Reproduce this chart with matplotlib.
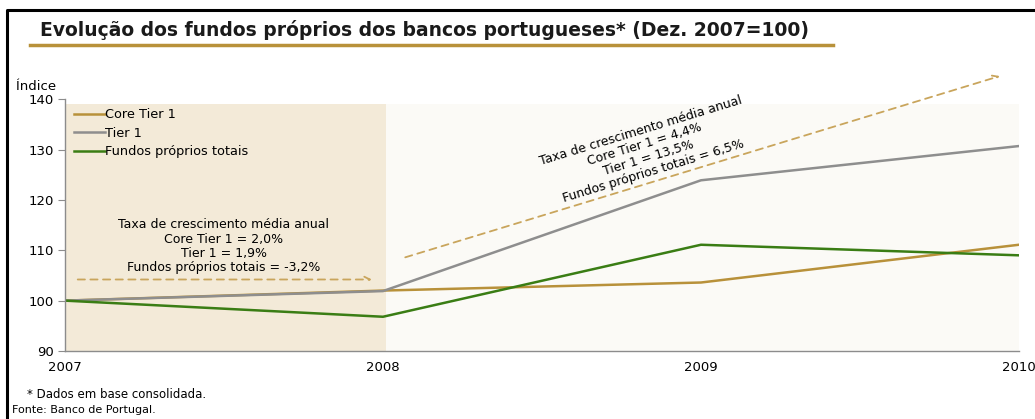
import numpy as np
import matplotlib.pyplot as plt
from matplotlib.lines import Line2D

plt.rcParams['font.family'] = ['DejaVu Sans']

# indices, Dez. 2007 = 100
anos = [2007, 2008, 2009, 2010]
core_tier1 = [100, 102.0, 103.6, 111.1]
tier1 = [100, 101.9, 123.9, 130.7]
fundos_totais = [100, 96.8, 111.1, 109.0]

ouro = '#b8913a'
cinza = '#8e8e8e'
verde = '#3a7d14'

fig = plt.figure(figsize=(10.35, 4.19), dpi=100)
ax = fig.add_axes([0.0628, 0.1623, 0.9217, 0.6009])

# fundo das duas fases
ax.fill_between([2007, 2008.01], 90, 139, color='#f3ead8', lw=0, zorder=0)
ax.fill_between([2008.01, 2010], 90, 139, color='#fbfaf6', lw=0, zorder=0)

ax.plot(anos, core_tier1, color=ouro, lw=1.8, label='Core Tier 1')
ax.plot(anos, tier1, color=cinza, lw=1.8, label='Tier 1')
ax.plot(anos, fundos_totais, color=verde, lw=1.8, label='Fundos próprios totais')

ax.set_xlim(2007, 2010)
ax.set_ylim(90, 140)
ax.set_yticks([90, 100, 110, 120, 130, 140])
ax.set_xticks(anos)
ax.set_xticklabels([str(a) for a in anos])
for s in ['top', 'right']:
    ax.spines[s].set_visible(False)
for s in ['left', 'bottom']:
    ax.spines[s].set_color('#8c8c8c')
    ax.spines[s].set_linewidth(1.0)
ax.tick_params(axis='y', length=5, color='#8c8c8c', labelsize=9.5, pad=3)
ax.tick_params(axis='x', length=0, labelsize=9.5, pad=7)
ax.set_facecolor('white')

ax.legend(loc='upper left', frameon=False, fontsize=9.3, handlelength=2.4,
          handletextpad=0.0, labelspacing=0.42, borderaxespad=0.3,
          bbox_to_anchor=(0.0, 1.0))

# setas de tendencia
seta = dict(arrowstyle='->', color='#c9a55c', lw=1.3, linestyle=(0, (4, 3)),
            shrinkA=0, shrinkB=0)
ax.annotate('', xy=(2007.965, 104.2), xytext=(2007.04, 104.2), arrowprops=seta)
ax.annotate('', xy=(2009.94, 144.6), xytext=(2008.07, 108.6),
            arrowprops=seta, annotation_clip=False)

ax.text(2007.50, 110.8,
        'Taxa de crescimento média anual\nCore Tier 1 = 2,0%\nTier 1 = 1,9%\n'
        'Fundos próprios totais = -3,2%',
        ha='center', va='center', fontsize=9, linespacing=1.12)
ax.text(2008.83, 129.7,
        'Taxa de crescimento média anual\nCore Tier 1 = 4,4%\nTier 1 = 13,5%\n'
        'Fundos próprios totais = 6,5%',
        ha='center', va='center', fontsize=9, linespacing=1.1,
        rotation=17, rotation_mode='anchor')

fig.text(16 / 1035, 1 - 86 / 419, 'Índice', fontsize=9.5, ha='left', va='center')

# titulo e moldura
fig.text(40 / 1035, 1 - 30 / 419,
         'Evolução dos fundos próprios dos bancos portugueses* (Dez. 2007=100)',
         fontsize=13.5, fontweight='bold', ha='left', va='center', color='#1a1a1a')
fig.add_artist(Line2D([30 / 1035, 833 / 1035], [1 - 45 / 419] * 2,
                      color=ouro, lw=2.5))
fig.add_artist(Line2D([7 / 1035, 7 / 1035, 1.0], [0.0, 1 - 10 / 419, 1 - 10 / 419],
                      color='black', lw=2.2))

fig.text(27 / 1035, 1 - 394 / 419, '* Dados em base consolidada.', fontsize=8.5,
         ha='left', va='center')
fig.text(12 / 1035, 1 - 410 / 419, 'Fonte: Banco de Portugal.', fontsize=8,
         ha='left', va='center')

fig.savefig('out.png', dpi=100, facecolor='white')
